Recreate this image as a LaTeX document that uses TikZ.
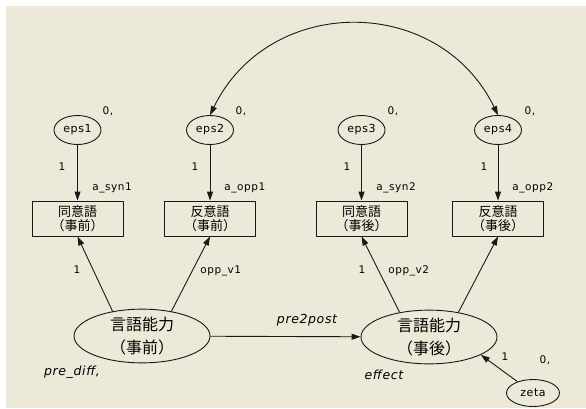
\documentclass[tikz,border=0pt]{standalone}
\usepackage{fontspec}
\usepackage{tikz}
\usetikzlibrary{shapes.geometric,arrows.meta}
\newfontfamily\amos[LetterSpace=5]{DejaVu Sans}
\newfontfamily\jp{Noto Sans CJK JP}
\definecolor{amosbg}{RGB}{236,233,216}
\definecolor{amosline}{RGB}{25,25,25}

\begin{document}
\begin{tikzpicture}[x=1pt, y=1pt, line width=0.9pt, line join=round, draw=amosline,
    obs/.style={draw, rectangle, minimum width=91pt, minimum height=35pt, inner sep=0pt,
      font=\jp\fontsize{13}{14.5}\selectfont, align=center},
    unobs/.style={draw, ellipse, minimum width=47pt, minimum height=29pt, inner sep=0pt,
      font=\amos\fontsize{11}{13}\selectfont},
    latent/.style={draw, ellipse, minimum width=136pt, minimum height=49pt, inner sep=0pt,
      font=\jp\fontsize{16}{23}\selectfont, align=center},
    par/.style={font=\amos\fontsize{10.5}{12}\selectfont, inner sep=0pt},
    ipar/.style={font=\amos\itshape\fontsize{12.5}{14}\selectfont, inner sep=0pt},
    path/.style={-{Triangle[length=9pt,width=6pt]}}]
    \fill[white] (0,0) rectangle (586,-408);
    \fill[amosbg] (6,-6) rectangle (586,-408);
    \useasboundingbox (0,0) rectangle (586,-408);
    \node[unobs] (eps1) at (77.5,-130) {eps1};
    \node[unobs] (eps2) at (210,-130) {eps2};
    \node[unobs] (eps3) at (361.5,-130) {eps3};
    \node[unobs] (eps4) at (498,-130) {eps4};
    \node[obs] (syn1) at (77.5,-218.5) {同意語\\（事前）};
    \node[obs] (opp1) at (210,-218.5) {反意語\\（事前）};
    \node[obs] (syn2) at (361.5,-218.5) {同意語\\（事後）};
    \node[obs] (opp2) at (498,-218.5) {反意語\\（事後）};
    \node[latent] (pre) at (142,-336) {言語能力\\（事前）};
    \node[latent] (post) at (429,-337) {言語能力\\（事後）};
    \node[unobs, minimum width=53pt, minimum height=27pt] (zeta) at (533,-393) {zeta};
    \draw[path] (eps1) -- (syn1);
    \draw[path] (eps2) -- (opp1);
    \draw[path] (eps3) -- (syn2);
    \draw[path] (eps4) -- (opp2);
    \draw[path] (pre.140) -- (syn1.south);
    \draw[path] (pre.40) -- (opp1.south);
    \draw[path] (post.140) -- (syn2.south);
    \draw[path] (post.40) -- (opp2.south);
    \draw[path] (pre) -- (post);
    \draw[path] (zeta) -- (post.-19);
    \draw[{Triangle[length=9pt,width=6pt]}-{Triangle[length=9pt,width=6pt]}]
      (eps2.north) to[out=64, in=116, looseness=1.2] (eps4.north);
    \node[par] (v1) at (108,-111) {0,};
    \node[par] (v2) at (241,-111) {0,};
    \node[par] (v3) at (393,-111) {0,};
    \node[par] (v4) at (530,-111) {0,};
    \node[par] (vz) at (545,-360) {0,};
    \node[par] (w1) at (62,-167) {1};
    \node[par] (w2) at (195,-167) {1};
    \node[par] (w3) at (347,-167) {1};
    \node[par] (w4) at (484,-167) {1};
    \node[par, anchor=west] (a1) at (92,-188) {a\_syn1};
    \node[par, anchor=west] (a2) at (224,-188) {a\_opp1};
    \node[par, anchor=west] (a3) at (376,-188) {a\_syn2};
    \node[par, anchor=west] (a4) at (512,-188) {a\_opp2};
    \node[par] (f1) at (77,-270) {1};
    \node[par, anchor=west] (f2) at (200,-271) {opp\_v1};
    \node[par] (f3) at (362,-270) {1};
    \node[par, anchor=west] (f4) at (388,-271) {opp\_v2};
    \node[par] (wz) at (505,-357) {1};
    \node[ipar] (b1) at (307,-320) {pre2post};
    \node[ipar] (d1) at (72,-372) {pre\_diff,};
    \node[ipar] (d2) at (384,-375) {effect};
\end{tikzpicture}
\end{document}
